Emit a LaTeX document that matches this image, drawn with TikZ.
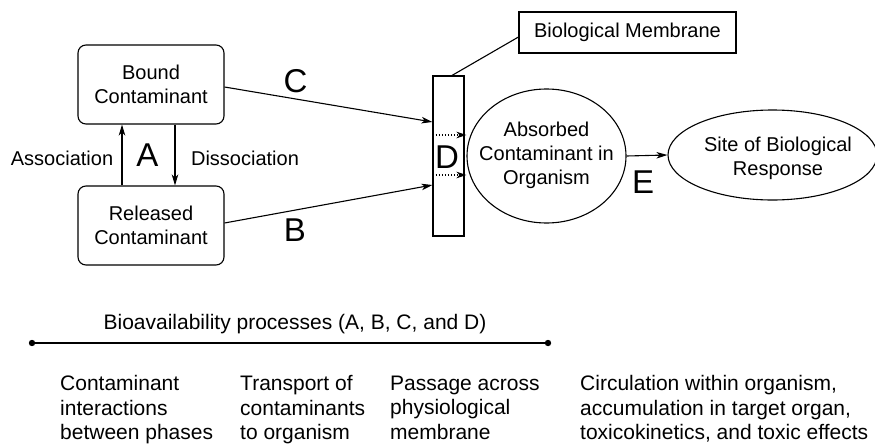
\documentclass[tikz,border=0pt]{standalone}
\usepackage{fontspec}
\setmainfont{Liberation Sans}
\usetikzlibrary{arrows.meta,shapes.geometric,calc}
\begin{document}
\begin{tikzpicture}[x=1pt,y=-1pt,
  txt/.style={font=\fontsize{20}{24}\selectfont, align=center, inner sep=0pt},
  big/.style={font=\fontsize{33}{36}\selectfont, inner sep=0pt},
  box/.style={draw, line width=1.1pt, rounded corners=8pt, minimum width=146pt, minimum height=79pt, txt},
  plainbox/.style={draw, line width=1.1pt, inner sep=0pt},
  oval/.style={draw, ellipse, line width=1.1pt, inner sep=0pt},
  arr/.style={line width=1.1pt, -{Stealth[length=11pt,width=6.5pt,inset=3pt]}},
  dotarr/.style={dotted, line width=1.1pt, -{Stealth[length=10pt,width=6.5pt,inset=3pt]}},
  thin/.style={line width=1.1pt},
  col/.style={font=\fontsize{21}{24.5}\selectfont, align=left, anchor=north west, inner sep=0pt}
]
\useasboundingbox (0,0) rectangle (875,447);
% boxes
\node[box] (bound) at (151,84.5) {Bound\\Contaminant};
\node[box] (rel) at (151,225.5) {Released\\Contaminant};
\node[plainbox, minimum width=31pt, minimum height=160pt] (mem) at (448.5,156) {};
\node[plainbox, minimum width=217pt, minimum height=41pt, txt] (bio) at (627.5,32.5) {Biological Membrane};
\node[oval, minimum width=159pt, minimum height=134pt] (abs) at (546.5,156) {};
\node[txt] (absT) at (546.5,155) {Absorbed\\Contaminant in\\Organism};
\node[oval, minimum width=209pt, minimum height=90pt] (site) at (772.5,155) {};
\node[txt] (siteT) at (778,158) {Site of Biological\\Response};
% labels
\node[txt] (assoc) at (62,158) {Association};
\node[txt] (dissoc) at (245,158) {Dissociation};
\node[big] (lA) at (147.5,155) {A};
\node[big] (lB) at (295,230.5) {B};
\node[big] (lC) at (295.5,81.5) {C};
\node[big] (lD) at (447,157) {D};
\node[big] (lE) at (643,182) {E};
% connectors
\draw[arr] (rel.north -| 122,0) -- (bound.south -| 122,0);
\draw[arr] (bound.south -| 175,0) -- (rel.north -| 175,0);
\draw[arr] (bound.east |- 0,87) -- (mem.west |- 0,122);
\draw[arr] (rel.east |- 0,223) -- (mem.west |- 0,185);
\draw[dotarr] (mem.west |- 0,135) -- (abs.west |- 0,135);
\draw[dotarr] (mem.west |- 0,175) -- (abs.west |- 0,175);
\draw[thin] (mem.north -| 452,0) -- (bio.west |- 0,37);
\draw[arr] (abs.east) -- (site.west);
% bottom timeline
\node[font=\fontsize{21}{24}\selectfont, inner sep=0pt] (head) at (295,324) {Bioavailability processes (A, B, C, and D)};
\coordinate (lineL) at (32,343);
\coordinate (lineR) at (548,343);
\draw[thin] (lineL) -- (lineR);
\fill (lineL) circle (3.2pt);
\fill (lineR) circle (3.2pt);
\node[col] (c1) at (60,375.5) {Contaminant\\interactions\\between phases};
\node[col] (c2) at (240,375.5) {Transport of\\contaminants\\to organism};
\node[col] (c3) at (390,375.5) {Passage across\\physiological\\membrane};
\node[col] (c4) at (580,375.5) {Circulation within organism,\\accumulation in target organ,\\toxicokinetics, and toxic effects};
\end{tikzpicture}
\end{document}
